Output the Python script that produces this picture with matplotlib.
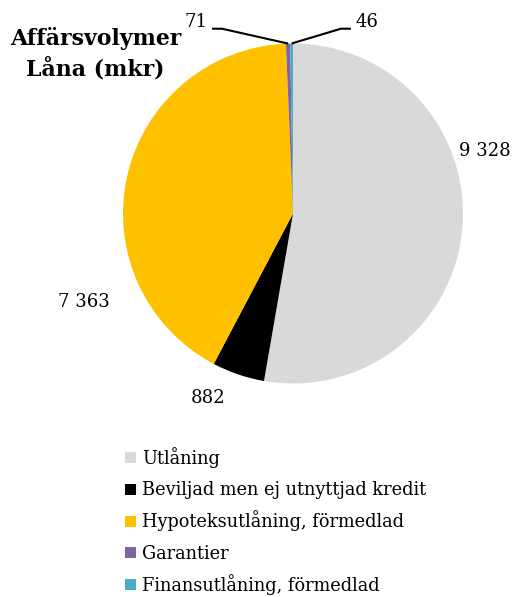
import matplotlib
matplotlib.use("Agg")
import matplotlib.pyplot as plt
from matplotlib.patches import Rectangle
import numpy as np

categories = ["Utlåning", "Beviljad men ej utnyttjad kredit",
              "Hypoteksutlåning, förmedlad", "Garantier",
              "Finansutlåning, förmedlad"]
values = [9328, 882, 7363, 71, 46]
value_labels = ["9 328", "882", "7 363", "71", "46"]
colors = ["#D9D9D9", "#000000", "#FFC000", "#8064A2", "#4BACC6"]

plt.rcParams["font.family"] = ["DejaVu Serif"]

W, H = 515, 597
fig = plt.figure(figsize=(W / 100, H / 100), dpi=100)

# pie axes: centre (293, 213) px, radius 170 px
cx, cy, r = 293, 213.5, 170
ax = fig.add_axes([(cx - r) / W, 1 - (cy + r) / H, 2 * r / W, 2 * r / H])
wedges, _ = ax.pie(values, colors=colors, startangle=90, counterclock=False,
                   radius=1.0, wedgeprops=dict(linewidth=0))
ax.set_xlim(-1, 1)
ax.set_ylim(-1, 1)
ax.set_aspect("equal")
ax.axis("off")

fs = 13.1
# label positions (axes data units)
label_pos = {
    0: (0.975, 0.37, "left"),
    1: (-0.50, -1.085, "center"),
    2: (-1.232, -0.52, "center"),
    3: (-0.50, 1.125, "right"),
    4: (0.37, 1.125, "left"),
}
for i, (x, y, ha) in label_pos.items():
    ax.text(x, y, value_labels[i], ha=ha, va="center", fontsize=fs,
            clip_on=False)

# leader lines for the thin slices
for i, (xe, xk) in {3: (-0.476, -0.418), 4: (0.341, 0.282)}.items():
    w = wedges[i]
    mid = np.deg2rad((w.theta1 + w.theta2) / 2)
    px, py = np.cos(mid), np.sin(mid)
    ax.plot([xe, xk, px], [1.087, 1.087, py], color="black", lw=1.5,
            clip_on=False, solid_capstyle="butt")

fig.text(95.5 / W, 1 - 54 / H, "Affärsvolymer\nLåna (mkr)", ha="center",
         va="center", fontsize=15.8, fontweight="bold", linespacing=1.38)

# legend: evenly spaced rows of square swatches with labels
row0, step, sq = 457.5, 31.8, 11
for k, (name, col) in enumerate(zip(categories, colors)):
    yc = row0 + k * step
    fig.patches.append(Rectangle((125 / W, 1 - (yc + sq / 2) / H),
                                 sq / W, sq / H, transform=fig.transFigure,
                                 facecolor=col, edgecolor="none"))
    fig.text(142 / W, 1 - (yc + 6) / H, name, ha="left", va="baseline",
             fontsize=12.8)

fig.savefig("out.png", dpi=100)
